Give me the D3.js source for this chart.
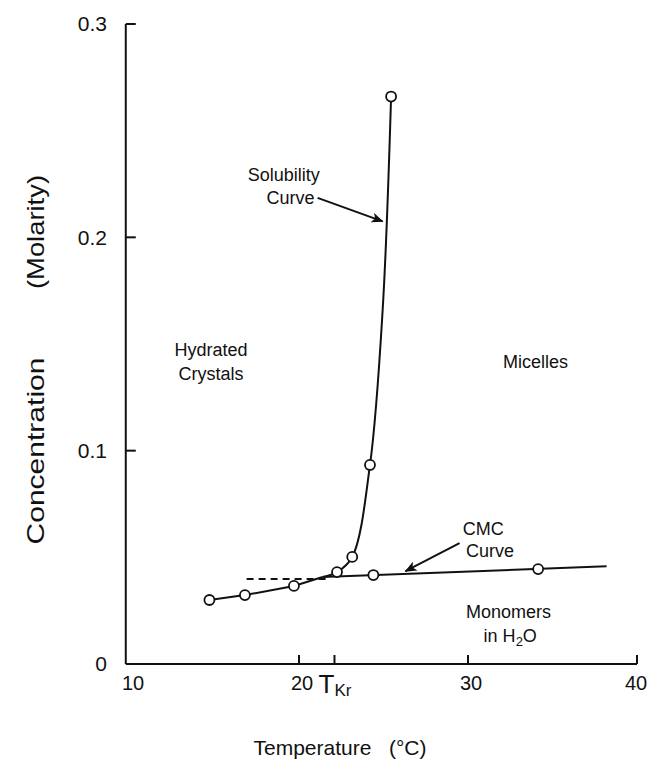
<!DOCTYPE html>
<html>
<head>
<meta charset="utf-8">
<script src="https://cdn.jsdelivr.net/npm/d3@7"></script>
<style>
  body { margin: 0; background: #fff; }
  svg text { font-family: "Liberation Sans", Arial, Helvetica, sans-serif; fill: #111; }
</style>
</head>
<body>
<div id="chart"></div>
<script>
// ---- data ----
var xTicks = [20, 30, 40];
var xTickLabels = ["10", "20", "30", "40"];
var xLabelValues = [10, 20, 30, 40];
var yTicks = [0.1, 0.2, 0.3];
var yTickLabels = ["0", "0.1", "0.2", "0.3"];
var yLabelValues = [0, 0.1, 0.2, 0.3];
var tKrafft = 22.1;

// monomer solubility (below Krafft point)
var lowT = [14.7, 16.8, 19.7, 21.4];
var lowC = [0.030, 0.0323, 0.0366, 0.0408];
// solubility curve rising above Krafft point
var solT = [21.4, 22.25, 23.15, 24.2, 24.95, 25.45];
var solC = [0.0408, 0.0431, 0.0502, 0.0933, 0.166, 0.266];
// CMC curve
var cmcT = [21.4, 38.2];
var cmcC = [0.0408, 0.0458];
// dashed extrapolation
var dashT = [16.9, 21.8];
var dashC = [0.0398, 0.0398];
// measured points (open circles)
var ptT = [14.7, 16.8, 19.7, 22.25, 23.15, 24.2, 25.45, 24.4, 34.15];
var ptC = [0.030, 0.0323, 0.0366, 0.0431, 0.0502, 0.0933, 0.266, 0.0417, 0.0445];

var width = 649, height = 767;

var x = d3.scaleLinear().domain([10, 40]).range([130, 637]);
var y = d3.scaleLinear().domain([0, 0.3]).range([664, 24]);

var svg = d3.select("#chart").append("svg")
    .attr("width", width)
    .attr("height", height);

var ink = "#111";
var x0 = x(9.75);

function pts(ts, cs) {
    return ts.map(function(t, i) { return [t, cs[i]]; });
}

// axes (drawn by hand, ticks point inward)
svg.append("line")
    .attr("x1", x0).attr("x2", x0)
    .attr("y1", y(0)).attr("y2", y(0.3))
    .attr("stroke", ink).attr("stroke-width", 2);
svg.append("line")
    .attr("x1", x0).attr("x2", x(40))
    .attr("y1", y(0)).attr("y2", y(0))
    .attr("stroke", ink).attr("stroke-width", 2);

svg.selectAll(".ytick")
    .data(yTicks).enter()
    .append("line")
    .attr("x1", x0).attr("x2", x0 + 10)
    .attr("y1", function(d) { return y(d); })
    .attr("y2", function(d) { return y(d); })
    .attr("stroke", ink).attr("stroke-width", 2);

svg.selectAll(".xtick")
    .data(xTicks.concat([tKrafft])).enter()
    .append("line")
    .attr("x1", function(d) { return x(d); })
    .attr("x2", function(d) { return x(d); })
    .attr("y1", y(0)).attr("y2", y(0) - 9)
    .attr("stroke", ink).attr("stroke-width", 2);

svg.selectAll(".ylab")
    .data(yLabelValues).enter()
    .append("text")
    .attr("x", 107)
    .attr("y", function(d) { return y(d); })
    .attr("dy", "0.35em")
    .attr("text-anchor", "end")
    .attr("font-size", 21)
    .text(function(d, i) { return yTickLabels[i]; });

svg.selectAll(".xlab")
    .data(xLabelValues).enter()
    .append("text")
    .attr("x", function(d) { return Math.min(x(d) + 3, width - 13); })
    .attr("y", 690)
    .attr("text-anchor", "middle")
    .attr("font-size", 20)
    .text(function(d, i) { return xTickLabels[i]; });

// T_Kr label
var tk = svg.append("text")
    .attr("x", x(tKrafft) - 16)
    .attr("y", 693)
    .attr("font-size", 26);
tk.append("tspan").text("T");
tk.append("tspan").attr("font-size", 17).attr("dy", 3).text("Kr");

// axis titles
svg.append("text")
    .attr("x", 340).attr("y", 755)
    .attr("text-anchor", "middle")
    .attr("font-size", 21)
    .attr("xml:space", "preserve")
    .text("Temperature   (\u00B0C)");

svg.append("text")
    .attr("transform", "translate(44,451) rotate(-90)")
    .attr("text-anchor", "middle")
    .attr("font-size", 24)
    .attr("textLength", 187)
    .attr("lengthAdjust", "spacingAndGlyphs")
    .text("Concentration");
svg.append("text")
    .attr("transform", "translate(44,232) rotate(-90)")
    .attr("text-anchor", "middle")
    .attr("font-size", 24)
    .attr("textLength", 114)
    .attr("lengthAdjust", "spacingAndGlyphs")
    .text("(Molarity)");

// curves
var lin = d3.line()
    .x(function(d) { return x(d[0]); })
    .y(function(d) { return y(d[1]); });
var smooth = d3.line()
    .x(function(d) { return x(d[0]); })
    .y(function(d) { return y(d[1]); })
    .curve(d3.curveCatmullRom.alpha(0.5));

svg.append("path").datum(pts(lowT, lowC))
    .attr("d", lin).attr("fill", "none")
    .attr("stroke", ink).attr("stroke-width", 2);
svg.append("path").datum(pts(solT, solC))
    .attr("d", smooth).attr("fill", "none")
    .attr("stroke", ink).attr("stroke-width", 2);
svg.append("path").datum(pts(cmcT, cmcC))
    .attr("d", lin).attr("fill", "none")
    .attr("stroke", ink).attr("stroke-width", 2);
svg.append("path").datum(pts(dashT, dashC))
    .attr("d", lin).attr("fill", "none")
    .attr("stroke", ink).attr("stroke-width", 2)
    .attr("stroke-dasharray", "7,5");

svg.selectAll(".pt")
    .data(pts(ptT, ptC)).enter()
    .append("circle")
    .attr("cx", function(d) { return x(d[0]); })
    .attr("cy", function(d) { return y(d[1]); })
    .attr("r", 5)
    .attr("fill", "#fff")
    .attr("stroke", ink).attr("stroke-width", 1.8);

// arrows
var defs = svg.append("defs");
defs.append("marker")
    .attr("id", "arr")
    .attr("viewBox", "0 0 12 10")
    .attr("refX", 11).attr("refY", 5)
    .attr("markerWidth", 13).attr("markerHeight", 10)
    .attr("markerUnits", "userSpaceOnUse")
    .attr("orient", "auto")
    .append("path")
    .attr("d", "M0,0 L12,5 L0,10 L3,5 Z")
    .attr("fill", ink);

// solubility arrow: from label toward curve
svg.append("line")
    .attr("x1", x(21.1)).attr("y1", y(0.2185))
    .attr("x2", x(24.95)).attr("y2", y(0.2075))
    .attr("stroke", ink).attr("stroke-width", 2)
    .attr("marker-end", "url(#arr)");
// CMC arrow
svg.append("line")
    .attr("x1", x(29.5)).attr("y1", y(0.0567))
    .attr("x2", x(26.3)).attr("y2", y(0.0435))
    .attr("stroke", ink).attr("stroke-width", 2)
    .attr("marker-end", "url(#arr)");

// region labels
function label(lines, ts, c, size, gap) {
    var g = svg.append("text")
        .attr("text-anchor", "middle")
        .attr("font-size", size);
    lines.forEach(function(s, i) {
        g.append("tspan")
            .attr("x", x(ts[i]))
            .attr("y", y(c) + i * gap)
            .text(s);
    });
    return g;
}
label(["Solubility", "Curve"], [19.1, 19.5], 0.2264, 18, 23);
label(["Hydrated", "Crystals"], [14.8, 14.8], 0.1443, 18, 24);
label(["Micelles"], [34.0], 0.1388, 18, 24);
label(["CMC", "Curve"], [30.9, 31.3], 0.0605, 18, 22);
label(["Monomers"], [32.4], 0.0216, 18, 24);

var h2o = svg.append("text")
    .attr("text-anchor", "middle")
    .attr("font-size", 18)
    .attr("x", x(32.5)).attr("y", y(0.0216) + 24);
h2o.append("tspan").text("in H");
h2o.append("tspan").attr("font-size", 13).attr("dy", 4).text("2");
h2o.append("tspan").attr("dy", -4).text("O");
</script>
</body>
</html>
